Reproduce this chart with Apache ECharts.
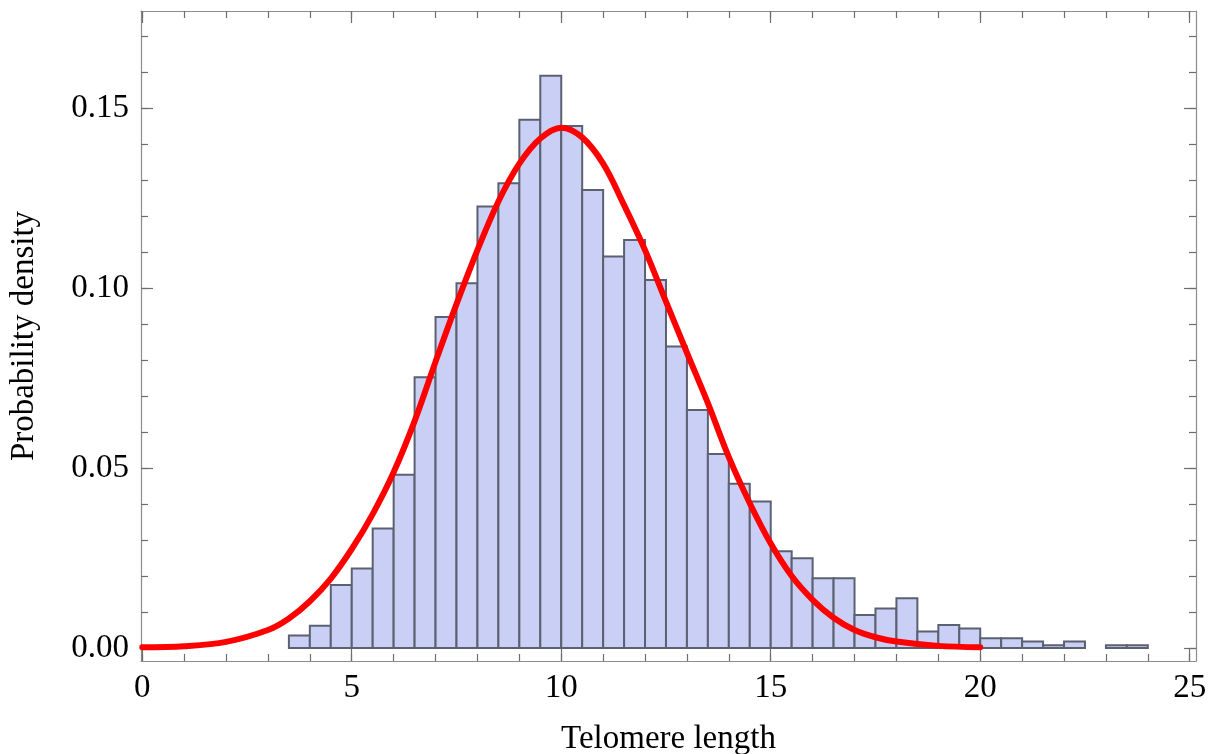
<!DOCTYPE html>
<html lang="en">
<head>
    <meta charset="UTF-8"/>
    <title>Telomere length histogram</title>
    <style>
        html, body {margin: 0; padding: 0; background: #fff;}
        #chart {width: 1220px; height: 754px;}
    </style>
</head>
<body>
<div id="chart"></div>
<script type="text/javascript" src="https://cdn.jsdelivr.net/npm/echarts/dist/echarts.min.js"></script>
<script type="text/javascript">
    // histogram bins (left edge, width 0.5) and probability density
    var binStart = [3.5, 4, 4.5, 5, 5.5, 6, 6.5, 7, 7.5, 8, 8.5, 9, 9.5, 10, 10.5, 11, 11.5, 12, 12.5, 13,
        13.5, 14, 14.5, 15, 15.5, 16, 16.5, 17, 17.5, 18, 18.5, 19, 19.5, 20, 20.5, 21, 21.5, 22, 22.5, 23, 23.5];
    var binDensity = [0.0035, 0.0062, 0.0175, 0.0221, 0.0332, 0.0481, 0.0752, 0.0919, 0.1013, 0.1226, 0.1291,
        0.1467, 0.1589, 0.1450, 0.1272, 0.1087, 0.1133, 0.1022, 0.0837, 0.0661, 0.0539, 0.0456, 0.0407, 0.0269,
        0.0249, 0.0194, 0.0194, 0.0092, 0.0110, 0.0138, 0.0046, 0.0064, 0.0054, 0.0027, 0.0027, 0.0018, 0.0008,
        0.0018, 0, 0.0008, 0.0008];
    var binWidth = 0.5;

    // fitted curve
    var fitX = [0, 1, 2, 3, 3.5, 4, 4.5, 5, 5.5, 6, 6.5, 7, 7.5, 8, 8.5, 9, 9.5, 10, 10.5, 11, 11.5, 12, 12.5,
        13, 13.5, 14, 14.5, 15, 15.5, 16, 16.5, 17, 17.5, 18, 19, 20];
    var fitY = [0.0002, 0.0005, 0.0017, 0.0050, 0.0082, 0.0130, 0.0193, 0.0275, 0.0372, 0.0488, 0.0630, 0.0795,
        0.0955, 0.1105, 0.1240, 0.1345, 0.1415, 0.1445, 0.1418, 0.1345, 0.1230, 0.1105, 0.0962, 0.0820, 0.0680,
        0.0530, 0.0402, 0.0290, 0.0200, 0.0134, 0.0084, 0.0050, 0.0030, 0.0018, 0.0006, 0.0002];

    // ticks
    var xMajor = [0, 5, 10, 15, 20, 25];
    var xMinor = [0, 1, 2, 3, 4, 5, 6, 7, 8, 9, 10, 11, 12, 13, 14, 15, 16, 17, 18, 19, 20, 21, 22, 23, 24, 25];
    var yMajor = [0, 0.05, 0.10, 0.15];
    var yMinor = [0, 0.01, 0.02, 0.03, 0.04, 0.05, 0.06, 0.07, 0.08, 0.09, 0.10, 0.11, 0.12, 0.13, 0.14, 0.15,
        0.16, 0.17];

    var xMin = -0.03, xMax = 25.15;
    var yMin = -0.0036, yMax = 0.1769;
    var font = "'Liberation Serif', 'Times New Roman', serif";

    var bars = [];
    for (var i = 0; i < binStart.length; i++) {
        if (binDensity[i] > 0) {
            bars.push([binStart[i], binStart[i] + binWidth, binDensity[i]]);
        }
    }
    var curve = [];
    for (var j = 0; j < fitX.length; j++) {
        curve.push([fitX[j], fitY[j]]);
    }

    // one side of the frame: line + inward ticks, no labels
    function frameAxis(pos, min, max, ticks, len, withLine) {
        return {
            type: 'value',
            position: pos,
            min: min,
            max: max,
            axisLine: {show: withLine, onZero: false, lineStyle: {color: '#8c8c8c', width: 1.2}},
            axisTick: {show: true, inside: true, length: len, customValues: ticks, lineStyle: {color: '#6e6e6e', width: 1.2}},
            axisLabel: {show: false},
            splitLine: {show: false}
        };
    }

    var xBottom = frameAxis('bottom', xMin, xMax, xMajor, 12, true);
    xBottom.axisLabel = {
        show: true, customValues: xMajor, margin: 11,
        color: '#000', fontFamily: font, fontSize: 33
    };
    xBottom.name = 'Telomere length';
    xBottom.nameLocation = 'middle';
    xBottom.nameGap = 62;
    xBottom.nameTextStyle = {color: '#000', fontFamily: font, fontSize: 33};

    var yLeft = frameAxis('left', yMin, yMax, yMajor, 12, true);
    yLeft.axisLabel = {
        show: true, customValues: yMajor, margin: 12,
        color: '#000', fontFamily: font, fontSize: 33,
        formatter: function (v) { return v.toFixed(2); }
    };
    yLeft.name = 'Probability density';
    yLeft.nameLocation = 'middle';
    yLeft.nameGap = 100;
    yLeft.nameTextStyle = {color: '#000', fontFamily: font, fontSize: 33};

    var chart = echarts.init(document.getElementById('chart'));
    chart.setOption({
        animation: false,
        backgroundColor: '#fff',
        grid: {left: 141, right: 24, top: 11, bottom: 93, containLabel: false, outerBoundsMode: 'none'},
        xAxis: [
            xBottom,
            frameAxis('bottom', xMin, xMax, xMinor, 7, false),
            frameAxis('top', xMin, xMax, xMajor, 12, true),
            frameAxis('top', xMin, xMax, xMinor, 7, false)
        ],
        yAxis: [
            yLeft,
            frameAxis('left', yMin, yMax, yMinor, 7, false),
            frameAxis('right', yMin, yMax, yMajor, 12, true),
            frameAxis('right', yMin, yMax, yMinor, 7, false)
        ],
        series: [
            {
                type: 'custom',
                xAxisIndex: 0,
                yAxisIndex: 0,
                data: bars,
                encode: {x: [0, 1], y: 2},
                renderItem: function (params, api) {
                    var p0 = api.coord([api.value(0), api.value(2)]);
                    var p1 = api.coord([api.value(1), 0]);
                    return {
                        type: 'rect',
                        shape: {x: p0[0], y: p0[1], width: p1[0] - p0[0], height: p1[1] - p0[1]},
                        style: {fill: '#c9cff5', stroke: '#5c6172', lineWidth: 2}
                    };
                }
            },
            {
                type: 'line',
                xAxisIndex: 0,
                yAxisIndex: 0,
                data: curve,
                smooth: 0.35,
                showSymbol: false,
                lineStyle: {color: '#ff0000', width: 6, cap: 'round'},
                z: 5
            }
        ]
    });
</script>
</body>
</html>
